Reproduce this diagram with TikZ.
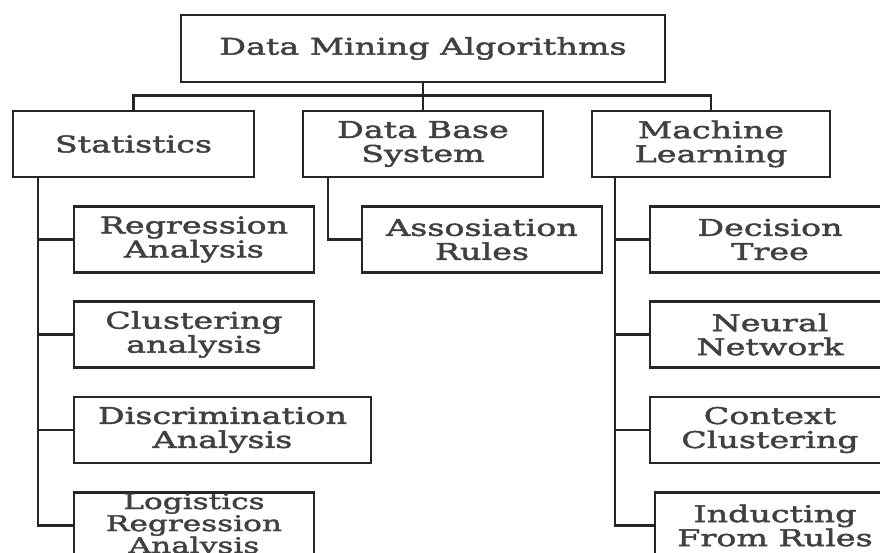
\documentclass[tikz,border=0pt]{standalone}
\usepackage{fontspec}
\setmainfont[FakeStretch=1.45,FakeBold=2]{DejaVu Serif}
\begin{document}
\begin{tikzpicture}[x=1pt,y=-1pt,
  box/.style={draw=black!85, line width=2.8pt, rectangle, align=center, inner sep=0pt,
    minimum width=240pt, minimum height=66pt, text=black!75,
    font=\fontsize{23}{24}\selectfont},
  link/.style={draw=black!85, line width=2.8pt}]
\useasboundingbox (0,0) rectangle (880,553);
\node[box, minimum width=484pt, minimum height=67pt] (top) at (423,48.5) {Data Mining Algorithms};
\node[box, minimum width=241pt] (stat) at (133.5,144) {Statistics};
\node[box] (db) at (423,144) {Data Base\\System};
\node[box, minimum width=238pt] (ml) at (711,144) {Machine\\Learning};
\node[box] (reg) at (194,239.5) {Regression\\Analysis};
\node[box] (clu) at (194,334.5) {Clustering\\analysis};
\node[box, minimum width=297pt] (dis) at (222.5,430) {Discrimination\\Analysis};
\node[box, font=\fontsize{21.5}{22}\selectfont] (log) at (194,525.5) {Logistics\\Regression\\Analysis};
\node[box] (ass) at (482,239.5) {Assosiation\\Rules};
\node[box] (dec) at (770,239.5) {Decision\\Tree};
\node[box] (neu) at (770,334.5) {Neural\\Network};
\node[box] (con) at (770,430) {Context\\Clustering};
\node[box] (ind) at (775,525.5) {Inducting\\From Rules};
% top level connectors
\draw[link] (top.south) -- (db.north);
\draw[link] (stat.north) -- ++(0,-14) -| (ml.north);
% trunks
\coordinate (st) at ([xshift=-95.5pt]stat.south);
\coordinate (dt) at ([xshift=-95pt]db.south);
\coordinate (mt) at ([xshift=-96pt]ml.south);
\draw[link] (st) |- (log.west);
\draw[link] (reg.west) -- (reg.west -| st);
\draw[link] (clu.west) -- (clu.west -| st);
\draw[link] (dis.west) -- (dis.west -| st);
\draw[link] (dt) |- (ass.west);
\draw[link] (mt) |- (ind.west);
\draw[link] (dec.west) -- (dec.west -| mt);
\draw[link] (neu.west) -- (neu.west -| mt);
\draw[link] (con.west) -- (con.west -| mt);
\end{tikzpicture}
\end{document}
